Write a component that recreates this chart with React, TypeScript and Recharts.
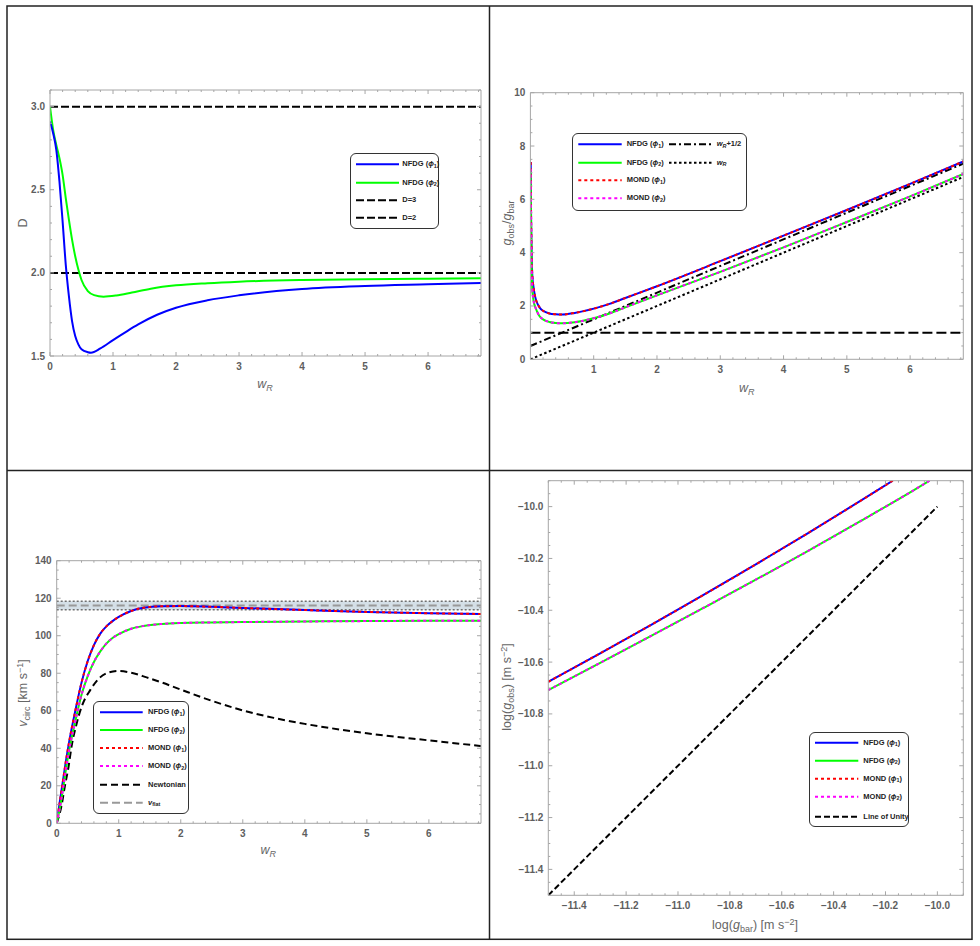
import type { ReactNode } from "react";
import { LineChart, Line, XAxis, YAxis, ReferenceLine, ReferenceArea } from "recharts";

const W = 980;
const H = 946;
const FRAME = "#a6a6a6";
const TICK_TEXT = "#5e5e5e";
const TITLE = "#666";
const FONT = "'Liberation Sans', Arial, sans-serif";
const XH = 20;
const YW = 30;

const BLUE = "#0000ff";
const GREEN = "#00ff00";
const RED = "#ff0000";
const MAGENTA = "#ff00ff";

// ---- top left: fractal dimension D against w_R
const P1_W1 = [0, 0.05, 0.1, 0.15, 0.2, 0.25, 0.3, 0.35, 0.4, 0.45, 0.5, 0.6, 0.65, 0.8, 1.0, 1.2, 1.4, 1.7, 2.0, 2.5, 3, 4, 5, 6, 6.84];
const P1_NFDG1 = [2.91, 2.84, 2.74, 2.55, 2.31, 2.05, 1.86, 1.71, 1.62, 1.57, 1.54, 1.523, 1.52, 1.546, 1.596, 1.644, 1.69, 1.748, 1.79, 1.835, 1.865, 1.903, 1.921, 1.931, 1.939];
const P1_W2 = [0, 0.05, 0.1, 0.15, 0.2, 0.25, 0.3, 0.35, 0.4, 0.45, 0.5, 0.6, 0.7, 0.85, 1.05, 1.3, 1.6, 2.0, 2.5, 3, 4, 5, 6, 6.84];
const P1_NFDG2 = [3.0, 2.86, 2.77, 2.69, 2.59, 2.45, 2.32, 2.2, 2.1, 2.02, 1.957, 1.89, 1.866, 1.857, 1.864, 1.882, 1.905, 1.925, 1.938, 1.947, 1.957, 1.962, 1.965, 1.967];
const P1_LEVELS = [3, 2];
const P1_XMAJOR = [0, 1, 2, 3, 4, 5, 6];
const P1_YMAJOR = [1.5, 2.0, 2.5, 3.0];

// ---- top right: g_obs/g_bar against w_R
const P2_W = [0.005, 0.01, 0.02, 0.03, 0.05, 0.075, 0.1, 0.15, 0.2, 0.3, 0.4, 0.5, 0.7, 1, 1.25, 1.5, 2, 3, 4, 5, 6, 6.84];
const P2_NFDG1 = [7.4, 5.6, 3.9, 3.15, 2.7, 2.35, 2.15, 1.93, 1.82, 1.72, 1.69, 1.68, 1.74, 1.9, 2.08, 2.3, 2.74, 3.68, 4.64, 5.6, 6.58, 7.42];
const P2_NFDG2 = [7.15, 5.3, 3.4, 2.65, 2.2, 1.97, 1.82, 1.6, 1.5, 1.4, 1.36, 1.35, 1.39, 1.54, 1.72, 1.95, 2.4, 3.28, 4.2, 5.15, 6.11, 6.95];
const P2_MOND1 = P2_NFDG1; // MOND curves coincide with the NFDG ones
const P2_MOND2 = P2_NFDG2;
const P2_LINE_W = [0, 6.84];
const P2_HALF = [0.5, 7.34];
const P2_UNIT = [0, 6.84];
const P2_LEVEL = 1;
const P2_XMAJOR = [1, 2, 3, 4, 5, 6];
const P2_YMAJOR = [0, 2, 4, 6, 8, 10];

// ---- bottom left: rotation curve
const P3_W = [0, 0.05, 0.1, 0.15, 0.2, 0.3, 0.4, 0.5, 0.6, 0.7, 0.8, 0.9, 1.0, 1.2, 1.4, 1.7, 2.0, 2.5, 3, 4, 5, 6, 6.84];
const P3_NFDG1 = [0, 11.5, 22.5, 33.5, 43.3, 60, 75, 86.5, 95, 101, 105, 107.8, 110, 113.2, 114.9, 115.7, 115.8, 115.4, 114.8, 113.7, 112.7, 112, 111.6];
const P3_NFDG2 = [0, 8, 18, 29, 38.8, 54.5, 68.5, 78.5, 86, 91.5, 95.8, 98.8, 100.8, 103.7, 105.2, 106.3, 106.8, 107.1, 107.3, 107.6, 107.8, 108, 108];
const P3_MOND1 = P3_NFDG1;
const P3_MOND2 = P3_NFDG2;
const P3_NW = [0, 0.08, 0.13, 0.19, 0.24, 0.32, 0.4, 0.54, 0.7, 0.85, 1.0, 1.2, 1.45, 1.7, 2.0, 2.5, 3, 3.5, 4, 5, 6, 6.84];
const P3_NEWTON = [0, 9.8, 19.5, 30, 41, 53, 62, 71, 77.8, 80.5, 81.2, 80.3, 77.8, 75, 71.3, 65.3, 60.2, 56.2, 53, 48, 44.2, 41.2];
const P3_VFLAT = 116.1;
const P3_VFLAT_BAND = [113.8, 118.4];
const P3_XMAJOR = [0, 1, 2, 3, 4, 5, 6];
const P3_YMAJOR = [0, 20, 40, 60, 80, 100, 120, 140];

// ---- bottom right: radial acceleration relation
const P4_G1 = [-11.5, -11.3, -11.1, -10.9, -10.7, -10.5, -10.3, -10.172];
const P4_NFDG1 = [-10.676, -10.566, -10.454, -10.34, -10.223, -10.103, -9.98, -9.9];
const P4_G2 = [-11.5, -11.3, -11.1, -10.9, -10.7, -10.5, -10.3, -10.1, -10.03];
const P4_NFDG2 = [-10.708, -10.603, -10.497, -10.39, -10.282, -10.172, -10.058, -9.942, -9.9];
const P4_MOND1 = P4_NFDG1;
const P4_MOND2 = P4_NFDG2;
const P4_UNITY_X = [-11.5, -10.0];
const P4_UNITY_Y = [-11.5, -10.0];
const P4_MAJOR = [-11.4, -11.2, -11.0, -10.8, -10.6, -10.4, -10.2, -10.0];

const rows = (xs: number[], ys: number[]) => xs.map((x, i) => ({ x, y: ys[i] }));

// tick positions only (major + minor)
const steps = (a: number, b: number, s: number) => {
  const out: number[] = [];
  for (let v = a; v <= b + 1e-9; v += s) out.push(Math.round(v * 1000) / 1000);
  return out;
};

type Side = "bottom" | "top" | "left" | "right";

const tickRenderer = (side: Side, majors: number[], fmt?: (v: number) => string) => (p: any) => {
  const v = p.payload.value as number;
  const major = majors.some((m) => Math.abs(m - v) < 1e-6);
  const len = major ? 4 : 2;
  const { x, y } = p;
  let mark;
  if (side === "bottom") mark = <line x1={x} x2={x} y1={y} y2={y - len} />;
  else if (side === "top") mark = <line x1={x} x2={x} y1={y} y2={y + len} />;
  else if (side === "left") mark = <line x1={x} x2={x + len} y1={y} y2={y} />;
  else mark = <line x1={x} x2={x - len} y1={y} y2={y} />;
  const txt = { fill: TICK_TEXT, fontSize: 10, fontWeight: "bold" as const, fontFamily: FONT };
  return (
    <g>
      <g stroke={FRAME} strokeWidth={1}>{mark}</g>
      {major && fmt && side === "bottom" && (
        <text x={x} y={y + 14} textAnchor="middle" {...txt}>{fmt(v)}</text>
      )}
      {major && fmt && side === "left" && (
        <text x={x - 5} y={y + 3.5} textAnchor="end" {...txt}>{fmt(v)}</text>
      )}
    </g>
  );
};

interface AxisCfg {
  domain: [number, number];
  ticks: number[];
  major: number[];
  fmt: (v: number) => string;
}

function frameAxes(xa: AxisCfg, ya: AxisCfg) {
  const common = {
    type: "number" as const,
    allowDataOverflow: true,
    interval: 0 as const,
    tickSize: 0,
    tickMargin: 0,
    tickLine: false,
    axisLine: { stroke: FRAME, strokeWidth: 1 },
  };
  return [
    <XAxis key="xb" xAxisId="b" orientation="bottom" dataKey="x" height={XH} domain={xa.domain}
      ticks={xa.ticks} tick={tickRenderer("bottom", xa.major, xa.fmt)} {...common} />,
    <XAxis key="xt" xAxisId="t" orientation="top" dataKey="x" height={1} domain={xa.domain}
      ticks={xa.ticks} tick={tickRenderer("top", xa.major)} {...common} />,
    <YAxis key="yl" yAxisId="l" orientation="left" width={YW} domain={ya.domain}
      ticks={ya.ticks} tick={tickRenderer("left", ya.major, ya.fmt)} {...common} />,
    <YAxis key="yr" yAxisId="r" orientation="right" width={1} domain={ya.domain}
      ticks={ya.ticks} tick={tickRenderer("right", ya.major)} {...common} />,
  ];
}

const plotMargin = (x0: number, y0: number, x1: number, y1: number) => ({
  left: x0 - YW,
  right: W - x1 - 1,
  top: y0 - 1,
  bottom: H - y1 - XH,
});

const ax = { xAxisId: "b", yAxisId: "l" };

function curve(data: { x: number; y: number }[], color: string, dash?: string, linear?: boolean) {
  return (
    <Line {...ax} data={data} dataKey="y" type={linear ? "linear" : "monotone"} stroke={color}
      strokeWidth={2} strokeDasharray={dash} dot={false} activeDot={false} isAnimationActive={false} />
  );
}

const Sub = ({ children }: { children: ReactNode }) => (
  <span style={{ fontSize: "72%", position: "relative", top: "0.3em" }}>{children}</span>
);
const Sup = ({ children }: { children: ReactNode }) => (
  <span style={{ fontSize: "72%", position: "relative", top: "-0.45em" }}>{children}</span>
);

function Title({ x, y, rotate, children }: { x: number; y: number; rotate?: boolean; children: ReactNode }) {
  return (
    <div style={{
      position: "absolute", left: x, top: y, whiteSpace: "nowrap", color: TITLE, fontSize: 12.5,
      fontFamily: FONT, lineHeight: 1,
      transform: `translate(-50%, -50%)${rotate ? " rotate(-90deg)" : ""}`,
    }}>{children}</div>
  );
}

interface Key { label: ReactNode; color: string; dash?: string; x: number; y: number; len: number; tx: number }

function LegendBox({ box, keys }: { box: [number, number, number, number]; keys: Key[] }) {
  return (
    <>
      <div style={{
        position: "absolute", left: box[0], top: box[1], width: box[2] - box[0], height: box[3] - box[1],
        border: "1px solid #333", borderRadius: 6, boxSizing: "border-box", background: "#fff",
      }} />
      <svg width={W} height={H} style={{ position: "absolute", left: 0, top: 0, pointerEvents: "none" }}>
        {keys.map((k, i) => (
          <line key={i} x1={k.x} x2={k.x + k.len} y1={k.y} y2={k.y} stroke={k.color} strokeWidth={2}
            strokeDasharray={k.dash} />
        ))}
      </svg>
      {keys.map((k, i) => (
        <div key={i} style={{
          position: "absolute", left: k.tx, top: k.y, transform: "translateY(-50%)", whiteSpace: "nowrap",
          fontSize: 7.5, fontWeight: "bold", fontFamily: FONT, color: "#222", lineHeight: 1,
        }}>{k.label}</div>
      ))}
    </>
  );
}

const phi = (n: number) => (<>(<i>ϕ</i><Sub>{n}</Sub>)</>);

const fmt1 = (v: number) => v.toFixed(1);
const fmt0 = (v: number) => String(v);
const fmtNeg = (v: number) => v.toFixed(1).replace("-", "\u2212");

const DOT = "3 3";
const DASH = "8 3";

function PanelTopLeft() {
  return (
    <div style={{ position: "absolute", left: 0, top: 0 }}>
      <LineChart width={W} height={H} margin={plotMargin(50, 90, 481, 356)}>
        {frameAxes(
          { domain: [0, 6.84], ticks: steps(0, 6.8, 0.2), major: P1_XMAJOR, fmt: fmt0 },
          { domain: [1.5, 3.1], ticks: steps(1.5, 3.1, 0.1), major: P1_YMAJOR, fmt: fmt1 },
        )}
        {P1_LEVELS.map((d) => (
          <ReferenceLine key={d} {...ax} y={d} stroke="#000" strokeWidth={2} strokeDasharray={DASH} />
        ))}
        {curve(rows(P1_W2, P1_NFDG2), GREEN)}
        {curve(rows(P1_W1, P1_NFDG1), BLUE)}
      </LineChart>
    </div>
  );
}

function PanelTopRight() {
  return (
    <div style={{ position: "absolute", left: 0, top: 0 }}>
      <LineChart width={W} height={H} margin={plotMargin(530.4, 92.7, 963.3, 359.3)}>
        {frameAxes(
          { domain: [0, 6.84], ticks: steps(0.2, 6.8, 0.2), major: P2_XMAJOR, fmt: fmt0 },
          { domain: [0, 10], ticks: steps(0, 10, 0.5), major: P2_YMAJOR, fmt: fmt0 },
        )}
        <ReferenceLine {...ax} y={P2_LEVEL} stroke="#000" strokeWidth={2} strokeDasharray="10 4" />
        {curve(rows(P2_LINE_W, P2_HALF), "#000", "7 3 2 3", true)}
        {curve(rows(P2_LINE_W, P2_UNIT), "#000", "2.5 2.5", true)}
        {curve(rows(P2_W, P2_NFDG1), BLUE)}
        {curve(rows(P2_W, P2_NFDG2), GREEN)}
        {curve(rows(P2_W, P2_MOND1), RED, DOT)}
        {curve(rows(P2_W, P2_MOND2), MAGENTA, DOT)}
      </LineChart>
    </div>
  );
}

function PanelBottomLeft() {
  return (
    <div style={{ position: "absolute", left: 0, top: 0 }}>
      <LineChart width={W} height={H} margin={plotMargin(56.7, 560.7, 481, 823.3)}>
        {frameAxes(
          { domain: [0, 6.84], ticks: steps(0, 6.8, 0.2), major: P3_XMAJOR, fmt: fmt0 },
          { domain: [0, 140], ticks: steps(0, 140, 5), major: P3_YMAJOR, fmt: fmt0 },
        )}
        <ReferenceArea {...ax} y1={P3_VFLAT_BAND[0]} y2={P3_VFLAT_BAND[1]} fill="#cfdbe4" fillOpacity={0.9} stroke="none" />
        {P3_VFLAT_BAND.map((v) => (
          <ReferenceLine key={v} {...ax} y={v} stroke="#6f6f6f" strokeWidth={1.5} strokeDasharray="2 2" />
        ))}
        <ReferenceLine {...ax} y={P3_VFLAT} stroke="#999" strokeWidth={2} strokeDasharray="8 4" />
        {curve(rows(P3_NW, P3_NEWTON), "#000", "7 4")}
        {curve(rows(P3_W, P3_NFDG1), BLUE)}
        {curve(rows(P3_W, P3_NFDG2), GREEN)}
        {curve(rows(P3_W, P3_MOND1), RED, DOT)}
        {curve(rows(P3_W, P3_MOND2), MAGENTA, DOT)}
      </LineChart>
    </div>
  );
}

function PanelBottomRight() {
  return (
    <div style={{ position: "absolute", left: 0, top: 0 }}>
      <LineChart width={W} height={H} margin={plotMargin(548.3, 480.7, 963.3, 895.3)}>
        {frameAxes(
          { domain: [-11.5, -9.9], ticks: steps(-11.5, -9.9, 0.05), major: P4_MAJOR, fmt: fmtNeg },
          { domain: [-11.5, -9.9], ticks: steps(-11.5, -9.9, 0.05), major: P4_MAJOR, fmt: fmtNeg },
        )}
        {curve(rows(P4_UNITY_X, P4_UNITY_Y), "#000", "6 3", true)}
        {curve(rows(P4_G1, P4_NFDG1), BLUE)}
        {curve(rows(P4_G2, P4_NFDG2), GREEN)}
        {curve(rows(P4_G1, P4_MOND1), RED, DOT)}
        {curve(rows(P4_G2, P4_MOND2), MAGENTA, DOT)}
      </LineChart>
    </div>
  );
}

const wR = (<><i>w</i><Sub><i>R</i></Sub></>);

export default function App() {
  return (
    <div style={{ position: "relative", width: W, height: H, background: "#fff", overflow: "hidden", fontFamily: FONT }}>
      <style>{"body{margin:0}"}</style>
      <PanelTopLeft />
      <PanelTopRight />
      <PanelBottomLeft />
      <PanelBottomRight />

      <Title x={22.7} y={223.3} rotate>D</Title>
      <Title x={265} y={384}>{wR}</Title>
      <Title x={506.7} y={223.3} rotate><i>g</i><Sub>obs</Sub>/<i>g</i><Sub>bar</Sub></Title>
      <Title x={746.7} y={388.3}>{wR}</Title>
      <Title x={23.3} y={693.3} rotate><i>v</i><Sub>circ</Sub> [km s<Sup>−1</Sup>]</Title>
      <Title x={268.3} y={850}>{wR}</Title>
      <Title x={506.7} y={686.7} rotate>log(<i>g</i><Sub>obs</Sub>) [m s<Sup>−2</Sup>]</Title>
      <Title x={755} y={925}>log(<i>g</i><Sub>bar</Sub>) [m s<Sup>−2</Sup>]</Title>

      <LegendBox box={[350, 153, 439, 229]} keys={[
        { label: <>NFDG {phi(1)}</>, color: BLUE, x: 356, y: 164.3, len: 43, tx: 402.3 },
        { label: <>NFDG {phi(2)}</>, color: GREEN, x: 356, y: 182.7, len: 43, tx: 402.3 },
        { label: "D=3", color: "#000", dash: DASH, x: 356, y: 200.3, len: 43, tx: 402.3 },
        { label: "D=2", color: "#000", dash: DASH, x: 356, y: 217.7, len: 43, tx: 402.3 },
      ]} />
      <LegendBox box={[572, 132.7, 747.3, 211.3]} keys={[
        { label: <>NFDG {phi(1)}</>, color: BLUE, x: 578.3, y: 144.3, len: 43.4, tx: 626.7 },
        { label: <>NFDG {phi(2)}</>, color: GREEN, x: 578.3, y: 162.7, len: 43.4, tx: 626.7 },
        { label: <>MOND {phi(1)}</>, color: RED, dash: DOT, x: 578.3, y: 180.3, len: 43.4, tx: 626.7 },
        { label: <>MOND {phi(2)}</>, color: MAGENTA, dash: DOT, x: 578.3, y: 198.3, len: 43.4, tx: 626.7 },
        { label: <>{wR}+1/2</>, color: "#000", dash: "7 3 2 3", x: 669, y: 144.3, len: 42.7, tx: 716.7 },
        { label: wR, color: "#000", dash: "2.5 2.5", x: 669, y: 162.7, len: 42.7, tx: 716.7 },
      ]} />
      <LegendBox box={[93.3, 700.7, 189.3, 814]} keys={[
        { label: <>NFDG {phi(1)}</>, color: BLUE, x: 100, y: 712.3, len: 42.7, tx: 148 },
        { label: <>NFDG {phi(2)}</>, color: GREEN, x: 100, y: 730, len: 42.7, tx: 148 },
        { label: <>MOND {phi(1)}</>, color: RED, dash: DOT, x: 100, y: 748, len: 42.7, tx: 148 },
        { label: <>MOND {phi(2)}</>, color: MAGENTA, dash: DOT, x: 100, y: 766, len: 42.7, tx: 148 },
        { label: "Newtonian", color: "#000", dash: "7 4", x: 100, y: 784.7, len: 42.7, tx: 148 },
        { label: <><i>v</i><Sub>flat</Sub></>, color: "#999", dash: "8 4", x: 100, y: 802.7, len: 42.7, tx: 148 },
      ]} />
      <LegendBox box={[809, 731.7, 909, 826.7]} keys={[
        { label: <>NFDG {phi(1)}</>, color: BLUE, x: 815, y: 742.7, len: 43.3, tx: 863.3 },
        { label: <>NFDG {phi(2)}</>, color: GREEN, x: 815, y: 760.7, len: 43.3, tx: 863.3 },
        { label: <>MOND {phi(1)}</>, color: RED, dash: DOT, x: 815, y: 778.7, len: 43.3, tx: 863.3 },
        { label: <>MOND {phi(2)}</>, color: MAGENTA, dash: DOT, x: 815, y: 796.7, len: 43.3, tx: 863.3 },
        { label: "Line of Unity", color: "#000", dash: "6 3", x: 815, y: 816.7, len: 43.3, tx: 863.3 },
      ]} />

      <svg width={W} height={H} style={{ position: "absolute", left: 0, top: 0, pointerEvents: "none" }}>
        <rect x={7} y={6} width={965} height={933.3} fill="none" stroke="#222" strokeWidth={1.5} />
        <line x1={489.5} x2={489.5} y1={6} y2={939.3} stroke="#222" strokeWidth={1.5} />
        <line x1={7} x2={972} y1={470.5} y2={470.5} stroke="#222" strokeWidth={1.5} />
      </svg>
    </div>
  );
}
